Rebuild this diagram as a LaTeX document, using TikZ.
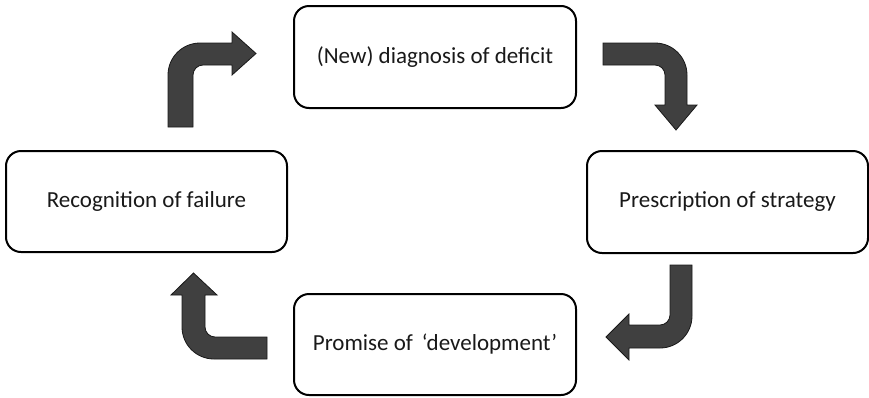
\documentclass[tikz,border=0pt]{standalone}
\usepackage{fontspec}
\setmainfont{Carlito}
\begin{document}
\begin{tikzpicture}[x=1pt,y=-1pt,
  stagebox/.style={draw=black,line width=2pt,rounded corners=15pt,fill=white,
    text=black!90,font=\fontsize{23}{27}\selectfont,inner sep=0pt},
  bentarrow/.style={fill=black!75,draw=black!90,line width=0.8pt,line join=miter}]
\useasboundingbox (0,0) rectangle (869,397);
% boxes
\node[stagebox,minimum width=282pt,minimum height=102pt] (diag) at (435,57) {(New) diagnosis of deficit};
\node[stagebox,minimum width=281pt,minimum height=101pt] (recog) at (146.5,201.5) {Recognition of failure};
\node[stagebox,minimum width=281pt,minimum height=102pt] (presc) at (727.5,202) {Prescription of strategy};
\node[stagebox,minimum width=282pt,minimum height=101pt] (prom) at (435,344.5) {Promise of \,{\char"2018}development{\char"2019}};
% arrow 1 (left up to top)
\draw[bentarrow] (168,127) -- (168,75) .. controls (168,57.3) and (182.3,43) .. (200,43)
  -- (232,43) -- (232,32) -- (256,53.5) -- (232,75) -- (232,65) -- (203,65)
  .. controls (197.5,65) and (193,69.5) .. (193,75) -- (193,127) -- cycle;
% arrow 2 (top to right)
\draw[bentarrow] (603,43) -- (655,43) .. controls (672.7,43) and (687,57.3) .. (687,75)
  -- (687,105) -- (697,105) -- (676,130) -- (655,105) -- (665,105) -- (665,75)
  .. controls (665,69.5) and (660.5,65) .. (655,65) -- (603,65) -- cycle;
% arrow 3 (right to bottom)
\draw[bentarrow] (692,265) -- (692,316) .. controls (692,333.7) and (677.7,348) .. (660,348)
  -- (629,348) -- (629,360) -- (606,337) -- (629,314) -- (629,325) -- (660,325)
  .. controls (665.5,325) and (670,320.5) .. (670,315) -- (670,265) -- cycle;
% arrow 4 (bottom to left)
\draw[bentarrow] (267,359) -- (214,359) .. controls (196.3,359) and (182,344.7) .. (182,327)
  -- (182,295) -- (171,295) -- (193.5,273) -- (217,295) -- (205,295) -- (205,327)
  .. controls (205,332.5) and (209.5,337) .. (215,337) -- (267,337) -- cycle;
\end{tikzpicture}
\end{document}
